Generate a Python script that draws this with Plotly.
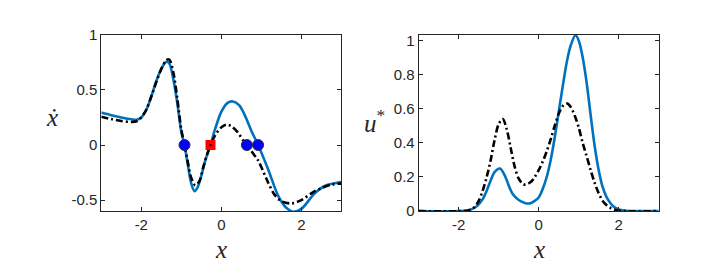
import plotly.graph_objects as go

# ---- left panel: xdot vs x ----
x_blue_l = [-3.0, -2.75, -2.5, -2.25, -2.125, -2.0, -1.875, -1.75, -1.625, -1.5, -1.375, -1.3, -1.2, -1.1, -1.0, -0.92,
            -0.85, -0.75, -0.67, -0.6, -0.5, -0.4, -0.27, -0.15, 0.0, 0.15, 0.29, 0.45, 0.6, 0.75, 0.92, 1.17, 1.42,
            1.6, 1.79, 2.0, 2.33, 2.6, 3.0]
xdot_blue = [0.294, 0.27, 0.25, 0.233, 0.229, 0.25, 0.32, 0.44, 0.58, 0.69, 0.755, 0.74, 0.6, 0.38, 0.12, 0.0,
             -0.15, -0.35, -0.42, -0.39, -0.28, -0.14, 0.0, 0.15, 0.30, 0.38, 0.395, 0.36, 0.26, 0.13, 0.0, -0.22, -0.46,
             -0.56, -0.605, -0.58, -0.44, -0.37, -0.336]

x_black_l = [-3.0, -2.75, -2.5, -2.25, -2.1, -2.0, -1.875, -1.75, -1.625, -1.5, -1.375, -1.3, -1.2, -1.1, -1.0, -0.92,
             -0.85, -0.75, -0.65, -0.55, -0.45, -0.35, -0.27, -0.15, 0.0, 0.125, 0.25, 0.4, 0.55, 0.64, 0.8, 0.92, 1.0,
             1.17, 1.33, 1.5, 1.75, 2.0, 2.33, 2.75, 3.0]
xdot_black = [0.257, 0.235, 0.218, 0.209, 0.218, 0.25, 0.32, 0.44, 0.57, 0.69, 0.77, 0.775, 0.66, 0.42, 0.14, 0.0,
              -0.13, -0.30, -0.365, -0.33, -0.2, -0.08, 0.0, 0.09, 0.16, 0.185, 0.17, 0.12, 0.04, 0.0, -0.08, -0.14, -0.2,
              -0.34, -0.45, -0.51, -0.53, -0.50, -0.42, -0.36, -0.35]

stable_x = [-0.92, 0.64, 0.92]
stable_y = [0, 0, 0]
unstable_x = [-0.27]
unstable_y = [0]

# ---- right panel: u* vs x ----
x_blue_r = [-3.0, -2.0, -1.75, -1.6, -1.5, -1.4, -1.3, -1.2, -1.1, -0.97, -0.85, -0.75, -0.65, -0.5, -0.35, -0.23,
            -0.1, 0.0, 0.1, 0.2, 0.3, 0.4, 0.5, 0.6, 0.7, 0.8, 0.92, 1.0, 1.1, 1.2, 1.3, 1.4, 1.5, 1.6, 1.7, 1.8,
            1.9, 2.0, 2.2, 2.5, 3.0]
u_blue = [0, 0, 0.005, 0.02, 0.04, 0.07, 0.12, 0.18, 0.23, 0.25, 0.21, 0.15, 0.10, 0.065, 0.048, 0.045,
          0.06, 0.08, 0.13, 0.2, 0.3, 0.43, 0.58, 0.73, 0.87, 0.97, 1.03, 1.0, 0.9, 0.75, 0.56, 0.38, 0.24, 0.14, 0.08, 0.045,
          0.022, 0.01, 0.002, 0, 0]

x_black_r = [-3.0, -2.0, -1.75, -1.6, -1.5, -1.4, -1.3, -1.2, -1.1, -1.0, -0.9, -0.8, -0.7, -0.6, -0.5, -0.4, -0.33,
             -0.2, -0.1, 0.0, 0.1, 0.2, 0.3, 0.4, 0.5, 0.6, 0.71, 0.8, 0.9, 1.0, 1.1, 1.2, 1.3, 1.4, 1.5, 1.6, 1.7,
             1.8, 1.9, 2.0, 2.2, 3.0]
u_black = [0, 0, 0.005, 0.025, 0.06, 0.12, 0.2, 0.3, 0.42, 0.51, 0.54, 0.48, 0.37, 0.26, 0.19, 0.16, 0.155,
           0.17, 0.2, 0.24, 0.29, 0.35, 0.42, 0.5, 0.57, 0.615, 0.63, 0.61, 0.56, 0.49, 0.40, 0.32, 0.24, 0.165, 0.105, 0.06, 0.035,
           0.018, 0.008, 0.003, 0, 0]

x_ticks = [-2, 0, 2]
left_yticks = [-0.5, 0, 0.5, 1]
left_yticklabels = ["-0.5", "0", "0.5", "1"]
right_yticks = [0, 0.2, 0.4, 0.6, 0.8, 1]
right_yticklabels = ["0", "0.2", "0.4", "0.6", "0.8", "1"]

BLUE = "#0072BD"
DASHDOT = "7px,3px,2px,3px"
AX = "#262626"
LW = 2.6

fig = go.Figure()
fig.add_trace(go.Scatter(x=x_blue_l, y=xdot_blue, mode="lines", line=dict(color=BLUE, width=LW, shape="spline", smoothing=0.9),
                         xaxis="x", yaxis="y", showlegend=False))
fig.add_trace(go.Scatter(x=x_black_l, y=xdot_black, mode="lines", line=dict(color="black", width=LW, dash=DASHDOT, shape="spline", smoothing=0.9),
                         xaxis="x", yaxis="y", showlegend=False))
fig.add_trace(go.Scatter(x=stable_x, y=stable_y, mode="markers",
                         marker=dict(symbol="circle", size=11, color="#0000FF", line=dict(color="#333333", width=1)),
                         xaxis="x", yaxis="y", showlegend=False))
fig.add_trace(go.Scatter(x=unstable_x, y=unstable_y, mode="markers",
                         marker=dict(symbol="square", size=10, color="#FF0000", line=dict(color="#FF0000", width=0)),
                         xaxis="x", yaxis="y", showlegend=False))
fig.add_trace(go.Scatter(x=unstable_x, y=unstable_y, mode="markers",
                         marker=dict(symbol="square", size=2, color="black"),
                         xaxis="x", yaxis="y", showlegend=False))

fig.add_trace(go.Scatter(x=x_blue_r, y=u_blue, mode="lines", line=dict(color=BLUE, width=LW, shape="spline", smoothing=0.9),
                         xaxis="x2", yaxis="y2", showlegend=False))
fig.add_trace(go.Scatter(x=x_black_r, y=u_black, mode="lines", line=dict(color="black", width=LW, dash=DASHDOT, shape="spline", smoothing=0.9),
                         xaxis="x2", yaxis="y2", showlegend=False))

axis_common = dict(showline=True, linecolor=AX, linewidth=1, mirror="allticks", ticks="inside", ticklen=4,
                   tickcolor=AX, showgrid=False, zeroline=False,
                   tickfont=dict(family="Liberation Sans, Arial, sans-serif", size=15, color=AX))

H = 264.0
W = 720.0
ydom = [(H - 207.5) / H, (H - 19) / H]

fig.update_layout(
    width=720, height=264, margin=dict(l=0, r=0, t=0, b=0),
    paper_bgcolor="white", plot_bgcolor="white",
    xaxis=dict(domain=[93.3 / W, 333.3 / W], range=[-3, 3], tickvals=x_ticks, ticktext=[str(t) for t in x_ticks],
               anchor="y", **axis_common),
    yaxis=dict(domain=ydom, range=[-0.6, 1], tickvals=left_yticks, ticktext=left_yticklabels, anchor="x", **axis_common),
    xaxis2=dict(domain=[410.7 / W, 650.7 / W], range=[-3, 3], tickvals=x_ticks, ticktext=[str(t) for t in x_ticks],
                anchor="y2", **axis_common),
    yaxis2=dict(domain=ydom, range=[0, 1.033], tickvals=right_yticks, ticktext=right_yticklabels, anchor="x2", **axis_common),
)

lab_font = dict(family="Liberation Serif, Times New Roman, serif", size=25, color=AX)
fig.add_annotation(text="<i>x</i>", x=(213.3) / W, y=(H - 248) / H, xref="paper", yref="paper",
                   showarrow=False, font=lab_font, xanchor="center", yanchor="middle")
fig.add_annotation(text="<i>x</i>", x=(530.7) / W, y=(H - 248) / H, xref="paper", yref="paper",
                   showarrow=False, font=lab_font, xanchor="center", yanchor="middle")
fig.add_annotation(text="<i>\u1e8b</i>", x=44 / W, y=(H - 107) / H, xref="paper", yref="paper",
                   showarrow=False, font=lab_font, xanchor="center", yanchor="middle")
fig.add_annotation(text="<i>u</i><sup>*</sup>", x=366 / W, y=(H - 111) / H, xref="paper", yref="paper",
                   showarrow=False, font=lab_font, xanchor="center", yanchor="middle")

fig.write_html("out.html")
